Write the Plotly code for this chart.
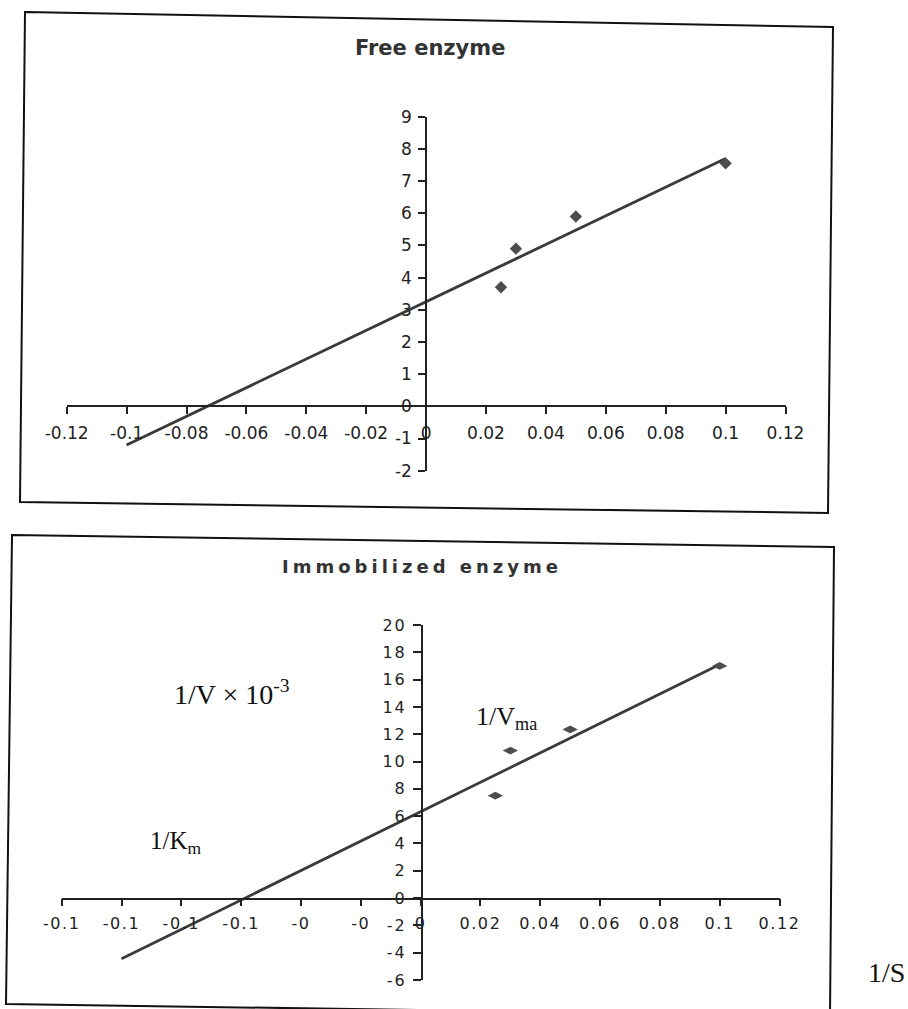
import plotly.graph_objects as go

# ---------------- data ----------------
free_x = [0.025, 0.03, 0.05, 0.1]
free_y = [3.7, 4.9, 5.9, 7.55]
free_trend_x = [-0.1, 0.1]
free_trend_y = [-1.2, 7.7]

imm_x = [0.025, 0.03, 0.05, 0.1]
imm_y = [7.5, 10.8, 12.35, 17.0]
imm_trend_x = [-0.1, 0.1]
imm_trend_y = [-4.45, 17.1]

top_xticks = [-0.12, -0.1, -0.08, -0.06, -0.04, -0.02, 0, 0.02, 0.04, 0.06, 0.08, 0.1, 0.12]
top_xlabels = ["-0.12", "-0.1", "-0.08", "-0.06", "-0.04", "-0.02", "0",
               "0.02", "0.04", "0.06", "0.08", "0.1", "0.12"]
top_yticks = [-2, -1, 0, 1, 2, 3, 4, 5, 6, 7, 8, 9]

bot_xticks = top_xticks
bot_xlabels = ["-0.1", "-0.1", "-0.1", "-0.1", "-0", "-0", "0",
               "0.02", "0.04", "0.06", "0.08", "0.1", "0.12"]
bot_yticks = [-6, -4, -2, 0, 2, 4, 6, 8, 10, 12, 14, 16, 18, 20]

W, H = 908, 1009


def px(x):
    return x / W


def py(y):
    return 1 - y / H


def spaced(s, ls):
    return f'<span style="letter-spacing:{ls}px">{s}</span>'


fig = go.Figure()

line_col = "#3a3a3a"
mark_col = "#4d4d4d"

# top chart
fig.add_trace(go.Scatter(x=free_trend_x, y=free_trend_y, mode="lines",
                         line=dict(color=line_col, width=2.8),
                         xaxis="x", yaxis="y", showlegend=False, hoverinfo="skip"))
fig.add_trace(go.Scatter(x=free_x, y=free_y, mode="markers",
                         marker=dict(symbol="diamond", size=9.5, color=mark_col),
                         xaxis="x", yaxis="y", showlegend=False))
# bottom chart
fig.add_trace(go.Scatter(x=imm_trend_x, y=imm_trend_y, mode="lines",
                         line=dict(color=line_col, width=2.8),
                         xaxis="x2", yaxis="y2", showlegend=False, hoverinfo="skip"))
fig.add_trace(go.Scatter(x=imm_x, y=imm_y, mode="markers",
                         marker=dict(symbol="diamond-wide", size=11, color=mark_col),
                         xaxis="x2", yaxis="y2", showlegend=False))

tick_col = "#222222"
top_font = dict(family="DejaVu Sans", size=17, color=tick_col)
bot_font = dict(family="DejaVu Sans", size=16, color=tick_col)

# top axes geometry (pixels)
t_x0, t_x1 = 66.7, 785.5
t_ybot, t_ytop = 470.7, 116.7
t_zero_y = 406.4
t_zero_x = 426.0

# bottom axes geometry (pixels)
b_x0, b_x1 = 61.7, 779.5
b_ybot, b_ytop = 980.0, 625.0
b_zero_y = 898.5
b_zero_x = 421.7

common = dict(showgrid=False, zeroline=False, showline=True, linecolor=tick_col,
              linewidth=1.5, ticks="outside", tickcolor=tick_col, tickwidth=1.5,
              tickmode="array", anchor="free")

fig.update_layout(
    width=W, height=H,
    margin=dict(l=0, r=0, t=0, b=0, autoexpand=False),
    paper_bgcolor="white", plot_bgcolor="rgba(0,0,0,0)",
    xaxis=dict(**common, domain=[px(t_x0), px(t_x1)], range=[-0.12, 0.12],
               position=py(t_zero_y), tickvals=top_xticks, ticktext=top_xlabels,
               ticklen=7, tickfont=top_font, tickangle=0, ticklabelstandoff=4),
    yaxis=dict(**common, domain=[py(t_ybot), py(t_ytop)], range=[-2, 9],
               position=px(t_zero_x), tickvals=top_yticks,
               ticktext=[str(v) for v in top_yticks],
               ticklen=7, tickfont=top_font, ticklabelstandoff=3),
    xaxis2=dict(**common, domain=[px(b_x0), px(b_x1)], range=[-0.12, 0.12],
                position=py(b_zero_y), tickvals=bot_xticks,
                ticktext=[spaced(s, 1.6) for s in bot_xlabels],
                ticklen=7, tickfont=bot_font, tickangle=0, ticklabelstandoff=4),
    yaxis2=dict(**common, domain=[py(b_ybot), py(b_ytop)], range=[-6, 20],
                position=px(b_zero_x), tickvals=bot_yticks,
                ticktext=[spaced(str(v), 2) for v in bot_yticks],
                ticklen=8, tickfont=bot_font, ticklabelstandoff=3),
)

# chart borders (scanned frames, slightly skewed)
def frame(pts):
    d = "M " + " L ".join(f"{px(x):.5f},{py(y):.5f}" for x, y in pts) + " Z"
    return dict(type="path", xref="paper", yref="paper", path=d,
                line=dict(color="#111111", width=2), fillcolor="rgba(0,0,0,0)")

fig.add_shape(frame([(25, 12), (833, 27), (828, 513), (20, 502)]))
fig.add_shape(frame([(12, 535), (834, 547), (830, 1016), (6, 1004)]))

annos = [
    dict(x=px(430), y=py(48), text="<b>Free enzyme</b>",
         font=dict(family="DejaVu Sans", size=21, color="#333333")),
    dict(x=px(422), y=py(566), text="<b>" + spaced("Immobilized enzyme", 4) + "</b>",
         font=dict(family="DejaVu Sans", size=18, color="#333333")),
    dict(x=px(172), y=py(692), xanchor="left",
         text="1/V × 10<sup>-3</sup>",
         font=dict(family="Liberation Serif", size=28, color="#111111")),
    dict(x=px(474), y=py(718), xanchor="left",
         text="1/V<sub>ma</sub>",
         font=dict(family="Liberation Serif", size=26, color="#111111")),
    dict(x=px(148), y=py(842), xanchor="left",
         text="1/K<sub>m</sub>",
         font=dict(family="Liberation Serif", size=25, color="#111111")),
    dict(x=px(866), y=py(972), xanchor="left",
         text="1/S",
         font=dict(family="Liberation Serif", size=28, color="#111111")),
]
for a in annos:
    a.setdefault("xanchor", "center")
    fig.add_annotation(xref="paper", yref="paper", yanchor="middle",
                       showarrow=False, **a)

fig.write_html("out.html",
               config={"displayModeBar": False},
               post_script="document.body.style.margin='0';document.body.style.padding='0';")
